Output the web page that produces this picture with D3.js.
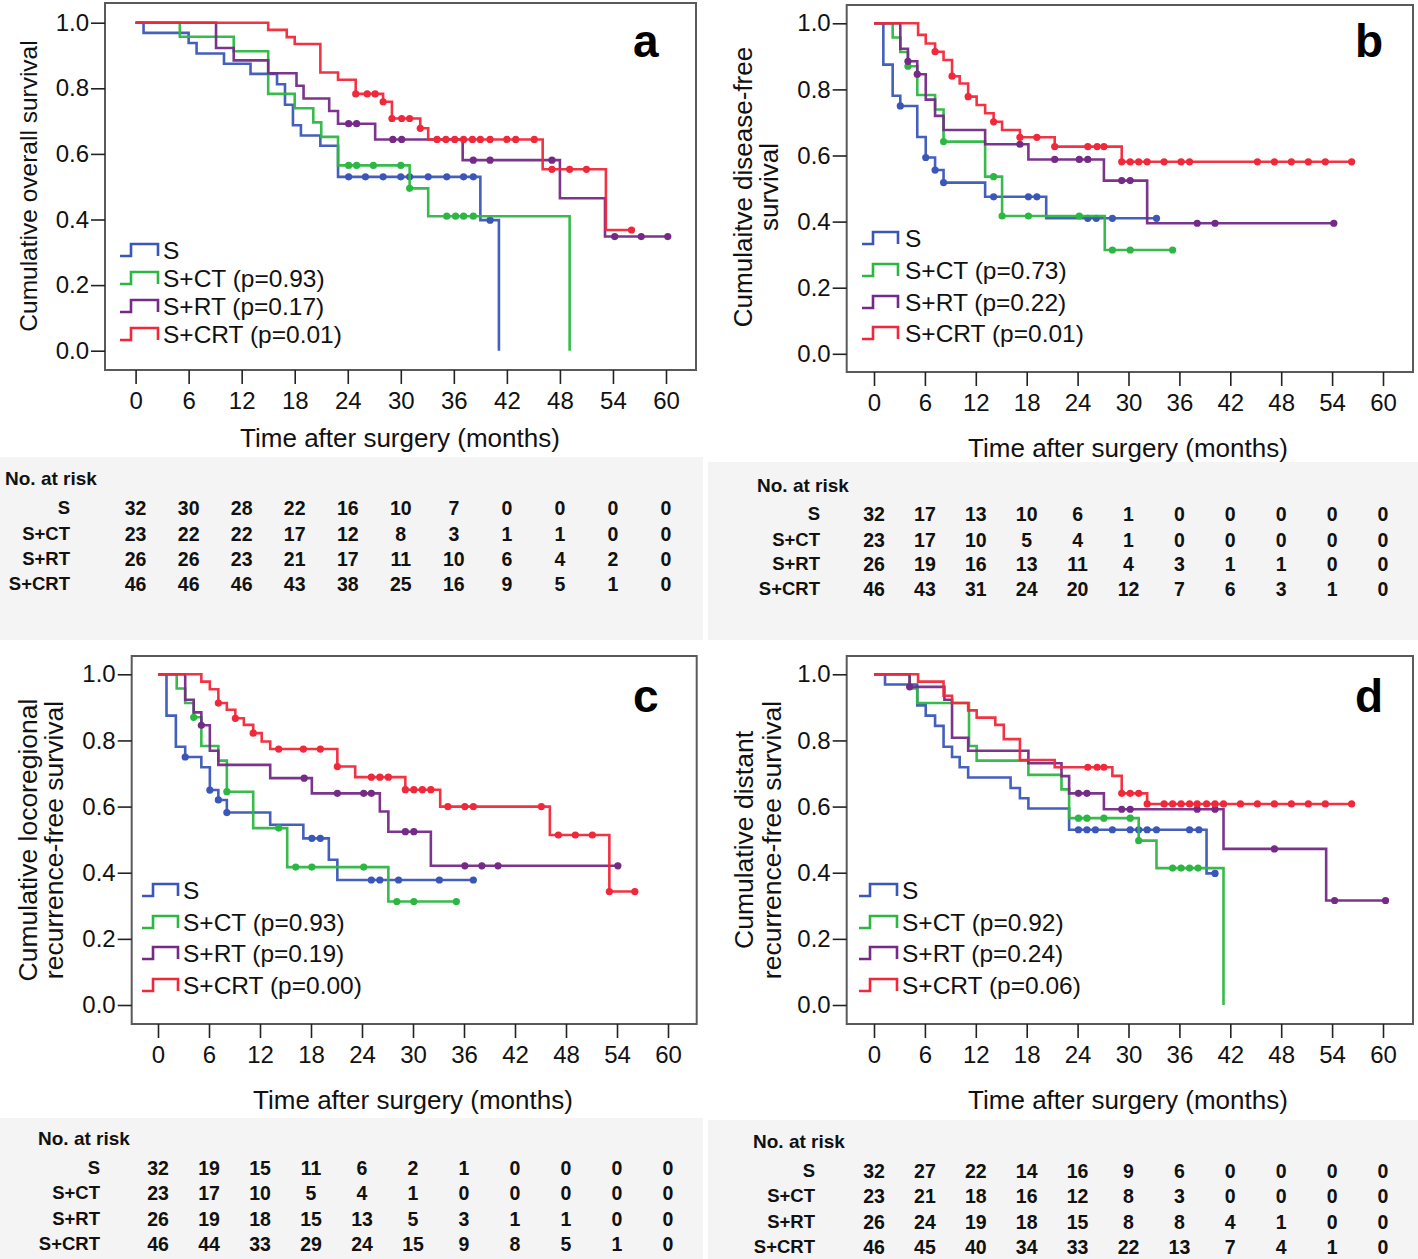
<!DOCTYPE html>
<html>
<head>
<meta charset="utf-8">
<script src="https://cdn.jsdelivr.net/npm/d3@7"></script>
<style>
  body { margin: 0; background: #fff; }
  svg { display: block; font-family: "Liberation Sans", Arial, sans-serif; }
</style>
</head>
<body>
<svg id="fig" width="1418" height="1259"></svg>
<script>
/*************************************************************************/
// data: steps are [month, survival after the drop], cens are months of censor marks

var times  = [0, 6, 12, 18, 24, 30, 36, 42, 48, 54, 60];
var groups = ['S', 'S+CT', 'S+RT', 'S+CRT'];
var colors = ['#3a56b8', '#2cb742', '#742a86', '#f0283a'];

// (a) overall survival
var a_S   = [[0,1],[0.9,0.969],[6,0.938],[6.9,0.906],[10,0.875],[13,0.844],[16,0.8125],[16.9,0.75],[17.8,0.6875],[18.7,0.656],[20.9,0.625],[22.9,0.53],[39,0.398],[41.1,0]];
var a_CT  = [[0,1],[5,0.957],[11.1,0.913],[15,0.783],[18,0.739],[20.1,0.696],[21,0.652],[22.9,0.565],[31,0.495],[33.1,0.41],[49.1,0]];
var a_RT  = [[0,1],[9.1,0.923],[11.1,0.885],[15,0.846],[18.2,0.808],[19,0.769],[21.9,0.731],[22.9,0.692],[27.1,0.644],[37,0.581],[48,0.465],[53.1,0.348]];
var a_CRT = [[0,1],[15,0.978],[17.1,0.956],[18,0.935],[20.9,0.848],[22.9,0.826],[24.9,0.783],[28,0.759],[29,0.708],[32.2,0.678],[33.1,0.644],[46.05,0.553],[53.2,0.368]];
var a_S_cens   = [24.1,26,28,30,31,33.1,35.2,37.1,38.2,40.1];
var a_CT_cens  = [24.1,25,26.9,30,31,35.2,36.2,37.1,38.2];
var a_RT_cens  = [24.1,25,29.1,30.1,38.2,40.1,47.1,54.2,57.2,60.2];
var a_CRT_cens = [24.9,26.2,27.1,28,29,30.1,31,32.2,34.1,35.1,36.1,37.1,38.1,39,40.1,42,43,45.1,47.1,49.1,51,56.1];
var a_pvals = ['', ' (p=0.93)', ' (p=0.17)', ' (p=0.01)'];
var a_risk_S   = [32,30,28,22,16,10,7,0,0,0,0];
var a_risk_CT  = [23,22,22,17,12,8,3,1,1,0,0];
var a_risk_RT  = [26,26,23,21,17,11,10,6,4,2,0];
var a_risk_CRT = [46,46,46,43,38,25,16,9,5,1,0];

// (b) disease-free survival
var b_S   = [[0,1],[1.1,0.875],[2.2,0.781],[3.1,0.75],[5.1,0.656],[6.1,0.594],[7.2,0.556],[8.2,0.518],[13.1,0.475],[20.3,0.41]];
var b_CT  = [[0,1],[2.2,0.957],[3.1,0.913],[4,0.87],[5.1,0.783],[7.2,0.739],[8.2,0.642],[13.1,0.536],[15.1,0.417],[27.2,0.314]];
var b_RT  = [[0,1],[3.1,0.923],[4,0.885],[5.1,0.846],[6.1,0.769],[7.2,0.72],[8.2,0.677],[13.1,0.634],[18.2,0.588],[27.1,0.524],[32.2,0.395]];
var b_CRT = [[0,1],[5.2,0.965],[6.1,0.939],[7.2,0.914],[8.2,0.889],[9.2,0.84],[10.1,0.818],[11.1,0.778],[12.1,0.753],[13.1,0.728],[14.1,0.702],[15.1,0.677],[17.2,0.655],[21.3,0.627],[29.2,0.581]];
var b_S_cens   = [3.1,6.1,7.2,8.2,14.1,18.2,19.2,25.2,26.2,28.1,33.3];
var b_CT_cens  = [4,8.2,14.1,15.1,18.2,24.2,28.1,30.2,35.2];
var b_RT_cens  = [4,5.1,17.2,21.3,24.2,25.2,29.2,30.2,38.1,40.2,54.2];
var b_CRT_cens = [7.2,9.2,11.1,14.1,17.2,19.2,21.3,25.2,26.3,27.1,29.2,30.2,31.2,32.2,34.2,36.2,37.2,45.2,47.2,49.2,51.2,53.2,56.3];
var b_pvals = ['', ' (p=0.73)', ' (p=0.22)', ' (p=0.01)'];
var b_risk_S   = [32,17,13,10,6,1,0,0,0,0,0];
var b_risk_CT  = [23,17,10,5,4,1,0,0,0,0,0];
var b_risk_RT  = [26,19,16,13,11,4,3,1,1,0,0];
var b_risk_CRT = [46,43,31,24,20,12,7,6,3,1,0];

// (c) locoregional recurrence-free survival
var c_S   = [[0,1],[1,0.875],[2.1,0.781],[3.2,0.75],[5.1,0.719],[6.1,0.65],[7.1,0.62],[8.1,0.582],[13.2,0.545],[17.1,0.504],[20.1,0.439],[21.1,0.378]];
var c_CT  = [[0,1],[2.2,0.957],[3.2,0.913],[4.2,0.87],[5.1,0.783],[7.1,0.739],[8.1,0.645],[11.2,0.535],[15.2,0.417],[27.1,0.313]];
var c_RT  = [[0,1],[3.2,0.923],[4.2,0.885],[5.1,0.846],[6.1,0.769],[7.1,0.726],[13.2,0.686],[18.1,0.64],[26.1,0.585],[27.1,0.524],[32.1,0.421]];
var c_CRT = [[0,1],[5.1,0.978],[6.1,0.955],[7.1,0.913],[8.1,0.893],[9.1,0.867],[10.1,0.847],[11.2,0.822],[12.2,0.797],[13.2,0.774],[21.1,0.721],[23.2,0.689],[29.1,0.651],[33.2,0.6],[46.1,0.514],[53.1,0.343]];
var c_S_cens   = [3.2,6.1,7.1,8.1,18.1,19.1,25.1,26.1,28.3,33.1,37.1];
var c_CT_cens  = [4.2,8.1,14.2,16.2,18.1,24.2,28.1,30.1,35.1];
var c_RT_cens  = [5.1,17.2,21.1,24.2,25.1,29.1,30.1,36.1,38.1,40,54.1];
var c_CRT_cens = [7.1,9.1,11.2,14.2,17.1,19.1,21.1,25.1,26.1,27.1,29.1,30.1,31.1,32.1,34.1,36.1,37.1,45.1,47.1,49.1,51.1,53.1,56.1];
var c_pvals = ['', ' (p=0.93)', ' (p=0.19)', ' (p=0.00)'];
var c_risk_S   = [32,19,15,11,6,2,1,0,0,0,0];
var c_risk_CT  = [23,17,10,5,4,1,0,0,0,0,0];
var c_risk_RT  = [26,19,18,15,13,5,3,1,1,0,0];
var c_risk_CRT = [46,44,33,29,24,15,9,8,5,1,0];

// (d) distant recurrence-free survival
var d_S   = [[0,1],[1.3,0.969],[5.1,0.906],[6.1,0.875],[7.2,0.844],[8.2,0.781],[9.2,0.75],[10.1,0.719],[11.1,0.688],[16.1,0.656],[17.2,0.625],[18.2,0.594],[23,0.53],[39.2,0.398]];
var d_CT  = [[0,1],[4.2,0.957],[5.1,0.913],[11.2,0.783],[12.1,0.739],[18.2,0.696],[22.1,0.652],[23,0.565],[31.2,0.497],[33.3,0.414],[41.2,0]];
var d_RT  = [[0,1],[4.2,0.962],[8.3,0.923],[9.2,0.808],[11.1,0.769],[18.2,0.731],[22.1,0.692],[23,0.64],[27.1,0.592],[41.2,0.472],[53.3,0.316]];
var d_CRT = [[0,1],[5.2,0.978],[8.2,0.935],[9.2,0.913],[11.1,0.891],[12.1,0.869],[14.3,0.847],[15.3,0.804],[17.2,0.741],[21.3,0.719],[28.1,0.693],[29.2,0.64],[32.2,0.608]];
var d_S_cens   = [24.1,25.1,26.1,28.1,30.2,31.2,32.2,33.3,37.2,38.3,40.2];
var d_CT_cens  = [24.1,25.1,27.1,30.2,31.2,35.2,36.2,37.2,38.2];
var d_RT_cens  = [4.2,24.1,25.1,29.2,30.2,38.1,40.2,47.2,54.3,60.3];
var d_CRT_cens = [25.2,26.3,27.1,29.2,30.2,31.2,32.2,34.2,35.2,36.2,37.2,38.1,39.2,40.2,41.2,43.2,45.2,47.2,49.2,51.2,53.2,56.3];
var d_pvals = ['', ' (p=0.92)', ' (p=0.24)', ' (p=0.06)'];
var d_risk_S   = [32,27,22,14,16,9,6,0,0,0,0];
var d_risk_CT  = [23,21,18,16,12,8,3,0,0,0,0];
var d_risk_RT  = [26,24,19,18,15,8,8,4,1,0,0];
var d_risk_CRT = [46,45,40,34,33,22,13,7,4,1,0];

/*************************************************************************/
// layout of the four panels

var panels = [
  { letter: 'a', ytitle: ['Cumulative overall survival'], ytitleX: [37], ytitleY: 186, ytitleSize: 24.5,
    curves: [a_S, a_CT, a_RT, a_CRT], cens: [a_S_cens, a_CT_cens, a_RT_cens, a_CRT_cens],
    risk: [a_risk_S, a_risk_CT, a_risk_RT, a_risk_CRT], pvals: a_pvals,
    box: [105, 3, 696, 370], x0: 135.6, x60: 666, y0: 350.7, y1: 22.7,
    letterPos: [633, 57], xtitle: [400, 438],
    legRows: [250, 278, 306, 334], legIcon: [120, 158], legText: 163,
    table: { bg: [0, 457, 703, 640], head: [5, 478], labelX: 70, rows: [508, 534, 559, 584] } },
  { letter: 'b', ytitle: ['Cumulaitve disease-free', 'survival'], ytitleX: [752, 778], ytitleY: 187, ytitleSize: 26,
    curves: [b_S, b_CT, b_RT, b_CRT], cens: [b_S_cens, b_CT_cens, b_RT_cens, b_CRT_cens],
    risk: [b_risk_S, b_risk_CT, b_risk_RT, b_risk_CRT], pvals: b_pvals,
    box: [846.7, 5, 1413, 372], x0: 874, x60: 1383, y0: 353.8, y1: 23.3,
    letterPos: [1355, 57], xtitle: [1128, 448],
    legRows: [238, 270, 302, 333], legIcon: [862, 898], legText: 905,
    table: { bg: [708, 462, 1418, 640], head: [757, 485], labelX: 820, rows: [514, 540, 564, 589] } },
  { letter: 'c', ytitle: ['Cumulative locoregional', 'recurrence-free survival'], ytitleX: [37, 63], ytitleY: 840, ytitleSize: 26.5,
    curves: [c_S, c_CT, c_RT, c_CRT], cens: [c_S_cens, c_CT_cens, c_RT_cens, c_CRT_cens],
    risk: [c_risk_S, c_risk_CT, c_risk_RT, c_risk_CRT], pvals: c_pvals,
    box: [131.7, 656, 696.7, 1024], x0: 158, x60: 668, y0: 1005, y1: 674.3,
    letterPos: [633, 712], xtitle: [413, 1100],
    legRows: [890, 922, 953, 985], legIcon: [142, 178], legText: 183,
    table: { bg: [0, 1118, 703, 1259], head: [38, 1138], labelX: 100, rows: [1168, 1193, 1219, 1244] } },
  { letter: 'd', ytitle: ['Cumulative distant', 'recurrence-free survival'], ytitleX: [753, 781], ytitleY: 840, ytitleSize: 26.5,
    curves: [d_S, d_CT, d_RT, d_CRT], cens: [d_S_cens, d_CT_cens, d_RT_cens, d_CRT_cens],
    risk: [d_risk_S, d_risk_CT, d_risk_RT, d_risk_CRT], pvals: d_pvals,
    box: [846.7, 656, 1413, 1024], x0: 874, x60: 1383, y0: 1005, y1: 674.3,
    letterPos: [1355, 712], xtitle: [1128, 1100],
    legRows: [890, 922, 953, 985], legIcon: [859, 897], legText: 902,
    table: { bg: [708, 1120, 1418, 1259], head: [753, 1141], labelX: 815, rows: [1171, 1196, 1222, 1247] } }
];

/*************************************************************************/

function KMPanel(cfg){
  this.cfg = cfg;
  this.svg = d3.select('#fig');
  this.create();
}

/*************************************************************************/

KMPanel.prototype.create = function(){
  var c = this.cfg;
  this.x = d3.scaleLinear().domain([0, 60]).range([c.x0, c.x60]);
  this.y = d3.scaleLinear().domain([0, 1]).range([c.y0, c.y1]);
  this.g = this.svg.append('g');
  this.drawTable();
  this.drawFrame();
  this.drawCurves();
  this.drawLegend();
}

/*************************************************************************/

KMPanel.prototype.drawFrame = function(){
  var c = this.cfg, b = c.box, g = this.g;

  g.append('rect')
    .attr('x', b[0]).attr('y', b[1]).attr('width', b[2] - b[0]).attr('height', b[3] - b[1])
    .attr('fill', '#fff').attr('stroke', '#5a5a5a').attr('stroke-width', 2);

  var yAxis = g.append('g').attr('transform', 'translate(' + b[0] + ',0)')
    .call(d3.axisLeft(this.y).tickValues([0, 0.2, 0.4, 0.6, 0.8, 1]).tickFormat(d3.format('.1f')).tickSize(14).tickPadding(2));
  var xAxis = g.append('g').attr('transform', 'translate(0,' + b[3] + ')')
    .call(d3.axisBottom(this.x).tickValues(times).tickSize(14).tickPadding(8));

  [xAxis, yAxis].forEach(function(ax){
    ax.select('.domain').remove();
    ax.attr('font-family', null).attr('font-size', null);
    ax.selectAll('line').attr('stroke', '#222').attr('stroke-width', 1.6);
    ax.selectAll('text').attr('fill', '#111').style('font-size', '24px');
  });

  // axis titles
  g.append('text').attr('x', c.xtitle[0]).attr('y', c.xtitle[1]).attr('dy', '0.35em')
    .attr('text-anchor', 'middle').style('font-size', '26px').attr('fill', '#111')
    .text('Time after surgery (months)');

  c.ytitle.forEach(function(t, i){
    g.append('text')
      .attr('transform', 'translate(' + c.ytitleX[i] + ',' + c.ytitleY + ') rotate(-90)')
      .attr('text-anchor', 'middle').style('font-size', c.ytitleSize + 'px').attr('fill', '#111')
      .text(t);
  });

  g.append('text').attr('x', c.letterPos[0]).attr('y', c.letterPos[1])
    .style('font-size', '46px').style('font-weight', 'bold').attr('fill', '#000')
    .text(c.letter);
}

/*************************************************************************/

KMPanel.prototype.drawCurves = function(){
  var c = this.cfg, x = this.x, y = this.y, g = this.g;
  var lineGen = d3.line().x(d => x(d[0])).y(d => y(d[1])).curve(d3.curveStepAfter);

  c.curves.forEach(function(steps, i){
    var cens = c.cens[i];
    var last = steps[steps.length - 1];
    var end = d3.max(cens) || 0;
    var pts = steps.slice();
    if(end > last[0]) pts.push([end, last[1]]);

    var valueAt = function(t){
      var v = 1;
      steps.forEach(s => { if(s[0] <= t + 1e-9) v = s[1]; });
      return v;
    };

    g.append('path').attr('d', lineGen(pts))
      .attr('fill', 'none').attr('stroke', colors[i]).attr('stroke-width', 2.6)
      .attr('stroke-linejoin', 'miter').attr('stroke-opacity', 0.95);

    g.append('g').selectAll('circle').data(cens).join('circle')
      .attr('cx', d => x(d)).attr('cy', d => y(valueAt(d))).attr('r', 3.6)
      .attr('fill', colors[i]);
  });
}

/*************************************************************************/

KMPanel.prototype.drawLegend = function(){
  var c = this.cfg, g = this.g;
  var l = c.legIcon[0], r = c.legIcon[1];
  c.legRows.forEach(function(yc, i){
    g.append('path')
      .attr('d', 'M' + l + ',' + (yc + 6) + 'H' + (l + 11) + 'V' + (yc - 6) + 'H' + r + 'V' + (yc + 6))
      .attr('fill', 'none').attr('stroke', colors[i]).attr('stroke-width', 2.6);
    g.append('text').attr('x', c.legText).attr('y', yc).attr('dy', '0.36em')
      .style('font-size', '24.5px').attr('fill', '#111')
      .text(groups[i] + c.pvals[i]);
  });
}

/*************************************************************************/

KMPanel.prototype.drawTable = function(){
  var c = this.cfg, t = c.table, g = this.g, x = this.x;

  g.append('rect').attr('x', t.bg[0]).attr('y', t.bg[1])
    .attr('width', t.bg[2] - t.bg[0]).attr('height', t.bg[3] - t.bg[1])
    .attr('fill', '#f4f4f4');

  g.append('text').attr('x', t.head[0]).attr('y', t.head[1]).attr('dy', '0.35em')
    .style('font-size', '19px').style('font-weight', 'bold').attr('fill', '#111')
    .text('No. at risk');

  c.risk.forEach(function(row, i){
    g.append('text').attr('x', t.labelX).attr('y', t.rows[i]).attr('dy', '0.35em')
      .attr('text-anchor', 'end').style('font-size', '18.5px').style('font-weight', 'bold').attr('fill', '#111')
      .text(groups[i]);
    g.append('g').selectAll('text').data(row).join('text')
      .attr('x', (d, j) => x(times[j])).attr('y', t.rows[i]).attr('dy', '0.35em')
      .attr('text-anchor', 'middle').style('font-size', '19.5px').style('font-weight', 'bold').attr('fill', '#111')
      .text(d => d);
  });
}

/*************************************************************************/

panels.forEach(function(p){ new KMPanel(p); });
</script>
</body>
</html>
